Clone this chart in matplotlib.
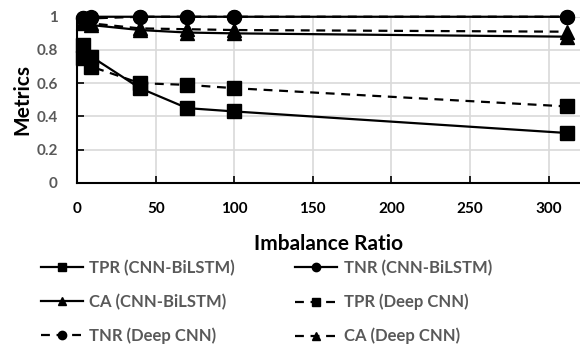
import matplotlib
matplotlib.use("Agg")
import matplotlib.pyplot as plt
from matplotlib.lines import Line2D

plt.rcParams['font.family'] = ['Lato', 'DejaVu Sans']

ratio = [4, 9, 40, 70, 100, 312]
tpr_bilstm = [0.83, 0.76, 0.57, 0.45, 0.43, 0.30]
tnr_bilstm = [0.99, 1.00, 1.00, 1.00, 1.00, 1.00]
ca_bilstm = [0.96, 0.95, 0.92, 0.905, 0.90, 0.88]
tpr_deep = [0.75, 0.70, 0.60, 0.59, 0.57, 0.46]
tnr_deep = [0.99, 0.99, 1.00, 1.00, 1.00, 1.00]
ca_deep = [0.97, 0.96, 0.93, 0.925, 0.92, 0.91]

xticks = [0, 50, 100, 150, 200, 250, 300]
yticks = [0, 0.2, 0.4, 0.6, 0.8, 1.0]
ytick_labels = ['0', '0.2', '0.4', '0.6', '0.8', '1']

fig = plt.figure(figsize=(5.8, 3.49), dpi=100)
ax = fig.add_axes([0.133, 0.476, 0.867, 0.476])

series = [
    ('TPR (CNN-BiLSTM)', tpr_bilstm, '-', 's', 10),
    ('TNR (CNN-BiLSTM)', tnr_bilstm, '-', 'o', 10),
    ('CA (CNN-BiLSTM)', ca_bilstm, '-', '^', 10),
    ('TPR (Deep CNN)', tpr_deep, (0, (4, 3)), 's', 10),
    ('TNR (Deep CNN)', tnr_deep, (0, (4, 3)), 'o', 10),
    ('CA (Deep CNN)', ca_deep, (0, (4, 3)), '^', 10),
]
for name, vals, ls, mk, ms in series:
    ax.plot(ratio, vals, color='black', linestyle=ls, marker=mk, markersize=ms,
            linewidth=1.6, clip_on=False, zorder=3)

ax.set_xlim(0, 320)
ax.set_ylim(0, 1)
ax.set_xticks(xticks)
ax.set_yticks(yticks)
ax.set_yticklabels(ytick_labels)
ax.grid(True, color='#d9d9d9', linewidth=1.2, zorder=0)
ax.set_axisbelow(True)
for s in ['top', 'right']:
    ax.spines[s].set_visible(False)
for s in ['left', 'bottom']:
    ax.spines[s].set_color('black')
    ax.spines[s].set_linewidth(1.5)
ax.tick_params(axis='x', direction='in', length=5, width=1.2, colors='black',
               labelsize=11, pad=14)
ax.tick_params(axis='y', direction='in', length=5, width=1.2, colors='black',
               labelsize=11, labelcolor='#595959', pad=14)
for lb in ax.get_xticklabels():
    lb.set_fontweight('bold')
for lb in ax.get_yticklabels():
    lb.set_fontweight('bold')

ax.set_xlabel('Imbalance Ratio', fontsize=15, fontweight='bold', labelpad=13)
ax.set_ylabel('Metrics', fontsize=15, fontweight='bold', labelpad=3)

handles = []
for name, vals, ls, mk, ms in series:
    handles.append(Line2D([0], [0], color='black', linestyle=ls, marker=mk,
                          markersize=6, linewidth=1.6, label=name))
order = [0, 2, 4, 1, 3, 5]
leg = fig.legend([handles[i] for i in order], [series[i][0] for i in order],
                 ncol=2, loc='upper left', bbox_to_anchor=(0.045, 0.298),
                 frameon=False, handlelength=2.5, handletextpad=0.4,
                 columnspacing=3.6, labelspacing=1.05,
                 prop={'size': 12, 'weight': 'bold'})
for t in leg.get_texts():
    t.set_color('#595959')

fig.savefig('out.png', dpi=100)
